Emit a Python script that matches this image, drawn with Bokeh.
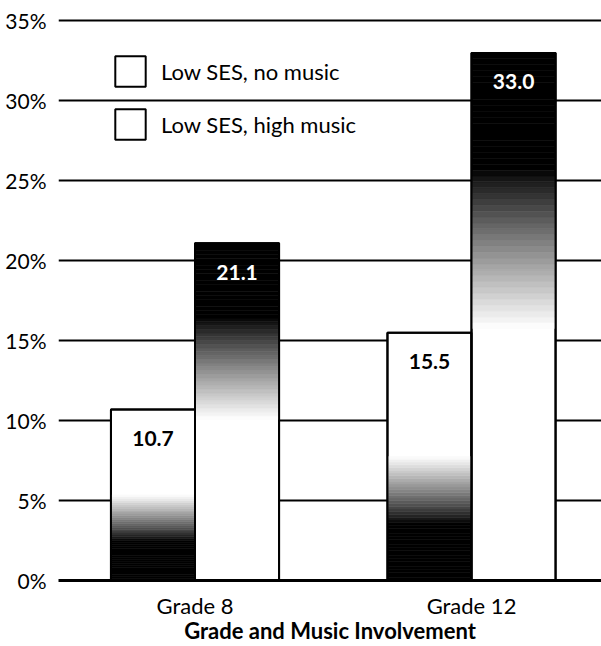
import numpy as np
from bokeh.plotting import figure
from bokeh.models import FixedTicker, PrintfTickFormatter, Legend, LegendItem, Range1d
from bokeh.embed import file_html
from bokeh.resources import INLINE
from bokeh.core.properties import value

# ---- data ----
grades = ["Grade 8", "Grade 12"]
no_music = [10.7, 15.5]
high_music = [21.1, 33.0]
no_music_labels = ["10.7", "15.5"]
high_music_labels = ["21.1", "33.0"]
series_names = ["Low SES, no music", "Low SES, high music"]
y_ticks = [0, 5, 10, 15, 20, 25, 30, 35]
x_title = "Grade and Music Involvement"

FONT = "Lato"
BAR_W = 0.304
N = 90
FRAME_H = 562

p = figure(width=601, height=646, output_backend="svg", toolbar_location=None,
           x_range=Range1d(0.5063, 2.4701), y_range=Range1d(0, 35.15),
           min_border_left=58, min_border_right=0, min_border_top=18, min_border_bottom=0)
p.outline_line_color = None
p.background_fill_color = "white"

centers = np.arange(1, len(grades) + 1)
x_no = centers - BAR_W / 2
x_hi = centers + BAR_W / 2


def gray_no(f):
    if f < 0.23:
        return 0
    if f < 0.5:
        t = (f - 0.23) / 0.27
        return int(255 * t ** 0.9)
    return 255


def gray_hi(f):
    if f > 0.78:
        return 0
    if f > 0.48:
        t = (0.78 - f) / 0.30
        return int(255 * t ** 0.9)
    return 255


# white base bars with black outline (also used as legend glyphs)
base_no = p.quad(left=x_no - BAR_W / 2, right=x_no + BAR_W / 2, bottom=0, top=no_music,
                 fill_color="white", line_color="black", line_width=2)
base_hi = p.quad(left=x_hi - BAR_W / 2, right=x_hi + BAR_W / 2, bottom=0, top=high_music,
                 fill_color="white", line_color="black", line_width=2)

# gradient stripes
L, R, B, T, C = [], [], [], [], []
for xs, vals, fn in ((x_no, no_music, gray_no), (x_hi, high_music, gray_hi)):
    for x, v in zip(xs, vals):
        for k in range(N):
            f = (k + 0.5) / N
            g = fn(f)
            if g >= 255:
                continue
            L.append(x - BAR_W / 2)
            R.append(x + BAR_W / 2)
            B.append(v * k / N)
            T.append(v * (k + 1) / N)
            C.append("#%02x%02x%02x" % (g, g, g))
p.quad(left=L, right=R, bottom=B, top=T, fill_color=C, line_color=C, line_width=0.6)

# outlines on top
for xs, vals in ((x_no, no_music), (x_hi, high_music)):
    p.quad(left=xs - BAR_W / 2, right=xs + BAR_W / 2, bottom=0, top=vals,
           fill_alpha=0, line_color="black", line_width=2)

# value labels
p.text(x=x_no, y=no_music, text=no_music_labels, y_offset=29, text_align="center",
       text_baseline="middle", text_font=value(FONT), text_font_style="bold",
       text_font_size="21px", text_color="black")
p.text(x=x_hi, y=high_music, text=high_music_labels, y_offset=29, text_align="center",
       text_baseline="middle", text_font=value(FONT), text_font_style="bold",
       text_font_size="21px", text_color="white")

# legend
legend = Legend(items=[LegendItem(label=series_names[0], renderers=[base_no]),
                       LegendItem(label=series_names[1], renderers=[base_hi])],
                location=(53, FRAME_H - 34 - 91), orientation="vertical",
                glyph_width=38, glyph_height=38,
                spacing=15, padding=0, margin=0, label_standoff=12,
                label_text_font=FONT, label_text_font_size="22px", label_text_color="black",
                border_line_alpha=0, background_fill_alpha=0)
p.add_layout(legend)

# axes
p.yaxis.ticker = FixedTicker(ticks=y_ticks)
p.yaxis.formatter = PrintfTickFormatter(format="%d%%")
p.yaxis.axis_line_color = None
p.yaxis.major_tick_line_color = None
p.yaxis.minor_tick_line_color = None
p.yaxis.major_label_standoff = 6
p.yaxis.major_label_text_font = FONT
p.yaxis.major_label_text_font_size = "21px"
p.yaxis.major_label_text_color = "black"

p.xaxis.ticker = FixedTicker(ticks=list(centers))
p.xaxis.major_label_overrides = {int(c): g for c, g in zip(centers, grades)}
p.xaxis.axis_line_color = "black"
p.xaxis.axis_line_width = 3
p.xaxis.major_tick_line_color = None
p.xaxis.minor_tick_line_color = None
p.xaxis.major_label_standoff = 5
p.xaxis.major_label_text_font = FONT
p.xaxis.major_label_text_font_size = "22px"
p.xaxis.major_label_text_color = "black"
p.xaxis.axis_label = x_title
p.xaxis.axis_label_text_font = FONT
p.xaxis.axis_label_text_font_style = "bold"
p.xaxis.axis_label_text_font_size = "22px"
p.xaxis.axis_label_standoff = -5
p.xaxis.axis_label_text_color = "black"

p.ygrid.ticker = FixedTicker(ticks=y_ticks)
p.ygrid.grid_line_color = "black"
p.ygrid.grid_line_width = 2
p.xgrid.grid_line_color = None

open("out.html", "w").write(file_html(p, INLINE))
